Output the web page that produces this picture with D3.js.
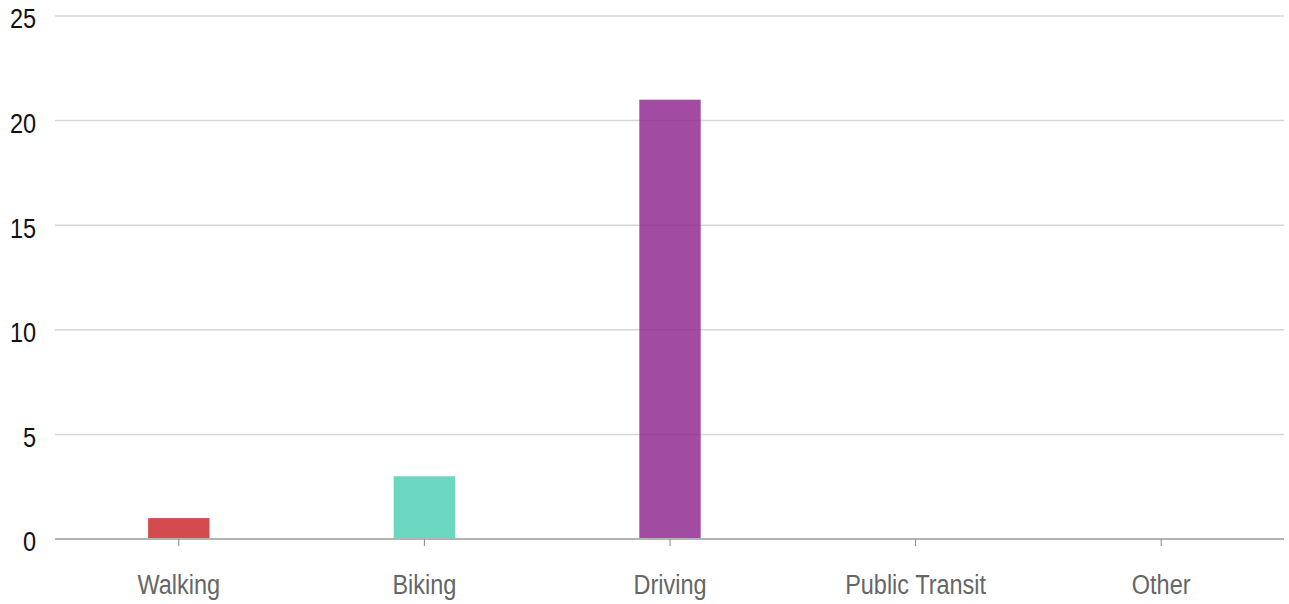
<!DOCTYPE html>
<html>
<head>
<meta charset="utf-8">
<script src="https://cdn.jsdelivr.net/npm/d3@7"></script>
<style>
  body { margin: 0; background: #fff; }
  text { font-family: "Liberation Sans Narrow", "Arial Narrow", "Liberation Sans", sans-serif; }
</style>
</head>
<body>
<div id="chart"></div>
<script>
// Data
const categories = ["Walking", "Biking", "Driving", "Public Transit", "Other"];
const values = [1, 3, 21, 0, 0];
const colors = ["#cc2b30", "#50d1b5", "#922c93", "#999999", "#999999"];
const yTicks = [0, 5, 10, 15, 20, 25];

const width = 1289, height = 604;
const margin = {top: 16, right: 5, bottom: 65, left: 56};
// the reference font is condensed; squeeze the fallback horizontally
const squeeze = 0.87;

const svg = d3.select("#chart").append("svg")
    .attr("width", width)
    .attr("height", height);

const x = d3.scaleBand()
    .domain(categories)
    .range([margin.left, width - margin.right])
    .paddingInner(0.75)
    .paddingOuter(0.375);

const y = d3.scaleLinear()
    .domain([0, 25])
    .range([height - margin.bottom, margin.top]);

// Grid lines
svg.append("g")
    .selectAll("line")
    .data(yTicks.filter(d => d > 0))
    .join("line")
    .attr("x1", margin.left - 1)
    .attr("x2", width - margin.right)
    .attr("y1", d => y(d))
    .attr("y2", d => y(d))
    .attr("stroke", "#d6d6d6")
    .attr("stroke-width", 1.5);

// Y tick labels
svg.append("g")
    .selectAll("text")
    .data(yTicks)
    .join("text")
    .attr("transform", d => `translate(36,${y(d) + 3}) scale(${squeeze},1)`)
    .attr("dy", "0.35em")
    .attr("text-anchor", "end")
    .attr("font-size", 27)
    .attr("fill", "#111")
    .text(d => d);

// Bars
svg.append("g")
    .selectAll("rect")
    .data(values)
    .join("rect")
    .attr("x", (d, i) => x(categories[i]))
    .attr("y", d => y(d))
    .attr("width", x.bandwidth())
    .attr("height", d => y(0) - y(d))
    .attr("fill", (d, i) => colors[i])
    .attr("fill-opacity", 0.85);

// X axis line
svg.append("line")
    .attr("x1", margin.left - 1)
    .attr("x2", width - margin.right)
    .attr("y1", y(0))
    .attr("y2", y(0))
    .attr("stroke", "#b3b3b3")
    .attr("stroke-width", 2);

// X ticks and labels
const xg = svg.append("g")
    .selectAll("g")
    .data(categories)
    .join("g")
    .attr("transform", d => `translate(${x(d) + x.bandwidth() / 2},${y(0)})`);
xg.append("line")
    .attr("y1", 0)
    .attr("y2", 7)
    .attr("stroke", "#888")
    .attr("stroke-width", 1);
xg.append("text")
    .attr("transform", `translate(0,55) scale(${squeeze},1)`)
    .attr("text-anchor", "middle")
    .attr("font-size", 27)
    .attr("fill", "#666")
    .text(d => d);
</script>
</body>
</html>
